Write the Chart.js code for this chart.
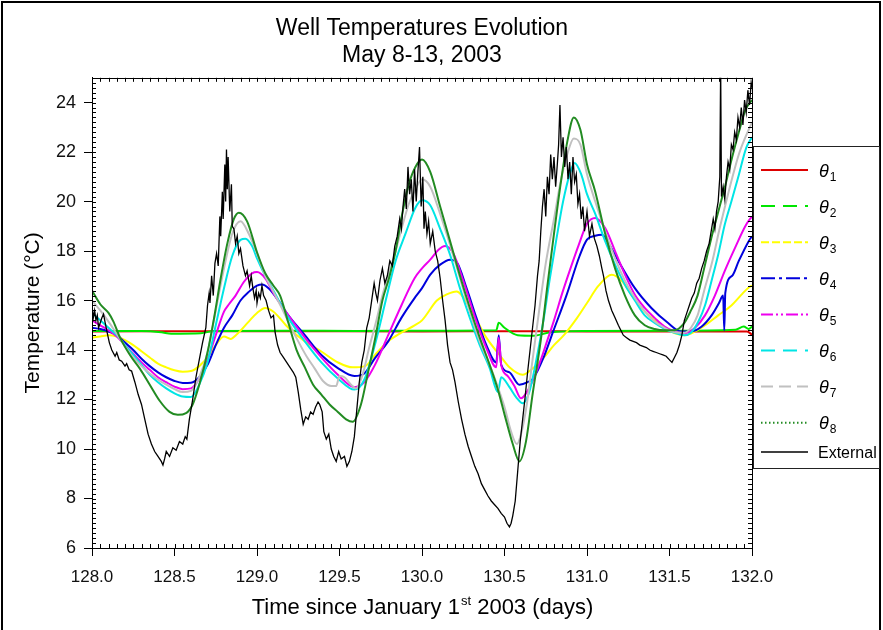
<!DOCTYPE html>
<html>
<head>
<meta charset="utf-8">
<title>Well Temperatures Evolution</title>
<script src="https://cdn.jsdelivr.net/npm/chart.js@4.4.0/dist/chart.umd.min.js"></script>
<style>
  html, body { margin: 0; padding: 0; background: #fff; }
  #wrap { width: 883px; height: 630px; }
</style>
</head>
<body>
<div id="wrap"><canvas id="puits" width="883" height="630"></canvas></div>
<script>
// temperatures du puits, jour de l'annee / degres C
var theta1Days = [128.00, 129.00, 130.00, 130.60, 131.00, 131.97, 132.00];
var theta1 = [14.75, 14.76, 14.75, 14.76, 14.75, 14.75, 14.62];

var theta2Days = [128.00, 128.30, 128.42, 128.48, 128.66, 128.74, 129.20, 129.60, 130.00, 130.45, 130.465, 130.50, 130.58, 130.68, 130.78, 131.00, 131.50, 131.90, 131.95, 131.98, 132.00];
var theta2 = [14.77, 14.77, 14.72, 14.66, 14.68, 14.77, 14.78, 14.77, 14.78, 14.8, 15.1, 14.9, 14.6, 14.58, 14.72, 14.77, 14.78, 14.82, 14.95, 14.85, 14.95];

var theta3Days = [128.00, 128.05, 128.10, 128.15, 128.20, 128.25, 128.30, 128.35, 128.40, 128.45, 128.50, 128.55, 128.60, 128.65, 128.70, 128.75, 128.80, 128.84, 128.88, 128.95,
  129.00, 129.05, 129.10, 129.19, 129.29, 129.39, 129.49, 129.58, 129.655, 129.715, 129.795, 129.875, 129.955, 130.00, 130.09, 130.15, 130.21, 130.29, 130.39, 130.47,
  130.53, 130.61, 130.67, 130.735, 130.80, 130.86, 130.94, 131.00, 131.07, 131.15, 131.21, 131.27, 131.35, 131.43, 131.51, 131.59, 131.655, 131.715, 131.795, 131.875,
  131.935, 131.975, 132.00];
var theta3 = [14.5, 14.55, 14.6, 14.55, 14.4, 14.2, 13.95, 13.7, 13.45, 13.3, 13.18, 13.12, 13.15, 13.35, 13.7, 14.2, 14.55, 14.45, 14.65, 15.15,
  15.5, 15.7, 15.55, 14.9, 14.35, 13.94, 13.5, 13.3, 13.35, 13.8, 14.35, 14.7, 15.0, 15.2, 16.0, 16.25, 16.37, 15.7, 14.5, 13.8,
  13.3, 13.0, 13.25, 13.67, 14.2, 14.6, 15.3, 15.9, 16.6, 17.04, 16.8, 16.23, 15.56, 15.1, 14.75, 14.6, 14.75, 15.0, 15.4, 15.8,
  16.23, 16.5, 16.6];

var theta4Days = [128.00, 128.05, 128.10, 128.15, 128.20, 128.25, 128.30, 128.35, 128.40, 128.45, 128.50, 128.55, 128.60, 128.65, 128.70, 128.75, 128.80, 128.85, 128.90, 128.95,
  129.00, 129.03, 129.07, 129.13, 129.19, 129.29, 129.39, 129.49, 129.59, 129.65, 129.715, 129.795, 129.875, 129.955, 130.00, 130.05, 130.11, 130.17, 130.21, 130.27,
  130.33, 130.39, 130.45, 130.465, 130.48, 130.53, 130.59, 130.64, 130.675, 130.735, 130.795, 130.875, 130.955, 131.00, 131.05, 131.09, 131.14, 131.19, 131.29, 131.39,
  131.49, 131.57, 131.63, 131.695, 131.755, 131.80, 131.825, 131.832, 131.838, 131.88, 131.92, 131.98, 132.00];
var theta4 = [14.9, 14.85, 14.75, 14.6, 14.3, 14.0, 13.65, 13.35, 13.1, 12.9, 12.75, 12.67, 12.68, 12.9, 13.4, 14.2, 14.9, 15.4, 16.0, 16.35,
  16.6, 16.65, 16.5, 16.0, 15.4, 14.6, 13.8, 13.27, 12.95, 13.05, 13.67, 14.35, 15.3, 16.1, 16.5, 17.05, 17.45, 17.65, 17.55, 16.5,
  15.3, 14.2, 13.5, 14.6, 13.4, 13.1, 12.6, 12.7, 12.86, 13.67, 14.75, 16.2, 17.8, 18.46, 18.62, 18.66, 18.2, 17.6, 16.5, 15.7,
  15.1, 14.75, 14.75, 14.95, 15.4, 15.9, 16.2, 14.8, 16.3, 17.0, 17.6, 18.4, 18.6];

var theta5Days = [128.00, 128.05, 128.10, 128.15, 128.20, 128.25, 128.30, 128.35, 128.40, 128.45, 128.50, 128.55, 128.60, 128.65, 128.70, 128.75, 128.80, 128.83, 128.87, 128.92,
  128.97, 129.00, 129.05, 129.10, 129.19, 129.29, 129.39, 129.49, 129.59, 129.65, 129.715, 129.795, 129.875, 129.955, 130.00, 130.05, 130.10, 130.14, 130.19, 130.25,
  130.33, 130.39, 130.45, 130.465, 130.48, 130.52, 130.56, 130.60, 130.64, 130.68, 130.72, 130.76, 130.80, 130.85, 130.90, 130.95, 131.00, 131.05, 131.11, 131.17,
  131.23, 131.29, 131.35, 131.41, 131.47, 131.53, 131.59, 131.655, 131.715, 131.775, 131.835, 131.895, 131.965, 132.00];
var theta5 = [15.2, 15.0, 14.8, 14.55, 14.2, 13.85, 13.5, 13.2, 12.9, 12.7, 12.52, 12.42, 12.45, 12.85, 13.6, 14.6, 15.55, 15.85, 16.2, 16.75,
  17.1, 17.15, 16.9, 16.3, 15.4, 14.5, 13.7, 13.0, 12.5, 12.7, 13.4, 14.6, 15.8, 16.9, 17.3, 17.65, 18.05, 18.2, 17.9, 16.8,
  15.15, 14.08, 13.3, 14.5, 13.4, 12.95, 12.55, 12.05, 12.35, 12.9, 13.6, 14.4, 15.2, 16.3, 17.3, 18.25, 19.1, 19.34, 18.93, 18.0,
  17.05, 16.23, 15.7, 15.3, 14.95, 14.75, 14.68, 14.9, 15.4, 16.2, 17.2, 18.1, 19.07, 19.4];

var theta6Days = [128.00, 128.05, 128.10, 128.15, 128.20, 128.25, 128.30, 128.35, 128.40, 128.45, 128.50, 128.55, 128.60, 128.65, 128.70, 128.75, 128.80, 128.85, 128.90, 128.93,
  128.97, 129.00, 129.05, 129.10, 129.19, 129.29, 129.39, 129.49, 129.59, 129.65, 129.72, 129.78, 129.84, 129.90, 129.96, 130.00, 130.05, 130.11, 130.17, 130.23,
  130.29, 130.35, 130.41, 130.46, 130.48, 130.53, 130.57, 130.61, 130.65, 130.69, 130.735, 130.775, 130.815, 130.855, 130.895, 130.925, 130.965, 131.00, 131.05, 131.11,
  131.17, 131.23, 131.29, 131.35, 131.41, 131.47, 131.53, 131.59, 131.63, 131.675, 131.715, 131.755, 131.795, 131.835, 131.875, 131.915, 131.965, 132.00];
var theta6 = [15.5, 15.2, 14.9, 14.6, 14.2, 13.8, 13.4, 13.0, 12.7, 12.45, 12.25, 12.12, 12.1, 12.6, 13.5, 15.0, 16.5, 17.8, 18.45, 18.5,
  18.2, 17.7, 17.0, 16.4, 15.3, 14.35, 13.5, 12.85, 12.4, 12.8, 14.35, 16.0, 17.6, 18.7, 19.75, 20.05, 19.85, 18.9, 17.85, 16.5,
  15.3, 14.2, 13.27, 12.3, 12.9, 12.5, 12.1, 11.85, 12.3, 13.5, 15.15, 16.9, 18.5, 20.0, 21.1, 21.56, 21.1, 20.3, 19.5, 18.4,
  17.45, 16.64, 16.0, 15.4, 15.1, 14.86, 14.7, 14.6, 14.7, 15.15, 15.8, 16.8, 17.85, 19.07, 20.0, 20.95, 22.17, 22.6];

var theta7Days = [128.00, 128.05, 128.10, 128.15, 128.20, 128.25, 128.30, 128.35, 128.40, 128.45, 128.50, 128.55, 128.60, 128.65, 128.70, 128.75, 128.80, 128.85, 128.90, 128.95,
  129.00, 129.05, 129.10, 129.15, 129.20, 129.25, 129.30, 129.35, 129.40, 129.45, 129.48, 129.50, 129.53, 129.57, 129.60, 129.64, 129.68, 129.72, 129.76, 129.80,
  129.84, 129.88, 129.92, 129.96, 130.00, 130.05, 130.11, 130.17, 130.23, 130.29, 130.35, 130.41, 130.46, 130.50, 130.54, 130.575, 130.60, 130.635, 130.67, 130.71,
  130.75, 130.80, 130.84, 130.88, 130.92, 130.96, 131.00, 131.05, 131.11, 131.17, 131.23, 131.29, 131.35, 131.41, 131.47, 131.53, 131.59, 131.63, 131.67, 131.71,
  131.76, 131.80, 131.84, 131.88, 131.92, 131.96, 132.00];
var theta7 = [16.0, 15.6, 15.15, 14.65, 14.15, 13.7, 13.35, 13.05, 12.8, 12.6, 12.42, 12.3, 12.35, 12.9, 13.9, 15.6, 17.3, 18.7, 19.2, 18.7,
  17.9, 17.0, 16.35, 15.7, 15.0, 14.35, 13.75, 13.25, 12.75, 12.55, 12.55, 12.95, 12.9, 12.6, 12.45, 13.0, 14.1, 15.1, 16.2, 17.1,
  18.0, 19.0, 19.9, 20.5, 20.9, 20.6, 19.5, 18.25, 16.9, 15.55, 14.35, 13.4, 12.5, 11.7, 10.7, 10.2, 10.6, 11.8, 13.6, 15.6,
  17.5, 19.3, 20.8, 21.9, 22.55, 22.3, 21.1, 20.0, 18.8, 17.7, 16.8, 16.1, 15.56, 15.15, 14.9, 14.72, 14.7, 14.9, 15.4, 16.4,
  17.6, 18.8, 19.9, 20.95, 21.9, 22.6, 23.2];

var theta8Days = [128.00, 128.05, 128.10, 128.13, 128.17, 128.23, 128.29, 128.35, 128.41, 128.47, 128.52, 128.57, 128.61, 128.65, 128.70, 128.74, 128.78, 128.82, 128.86, 128.89,
  128.94, 129.00, 129.05, 129.10, 129.14, 129.19, 129.24, 129.29, 129.34, 129.39, 129.44, 129.49, 129.54, 129.58, 129.63, 129.67, 129.72, 129.76, 129.80, 129.84,
  129.88, 129.92, 129.96, 130.00, 130.05, 130.11, 130.17, 130.23, 130.29, 130.35, 130.41, 130.46, 130.50, 130.55, 130.59, 130.63, 130.67, 130.72, 130.76, 130.80,
  130.84, 130.88, 130.92, 130.96, 131.00, 131.05, 131.11, 131.17, 131.23, 131.29, 131.35, 131.41, 131.47, 131.53, 131.59, 131.63, 131.67, 131.71, 131.76, 131.80,
  131.84, 131.88, 131.92, 131.96, 132.00];
var theta8 = [16.4, 15.85, 15.5, 15.15, 14.5, 13.8, 13.25, 12.6, 11.95, 11.5, 11.38, 11.45, 11.8, 12.6, 13.9, 15.3, 16.9, 18.3, 19.3, 19.55,
  19.2, 17.95, 17.1, 16.6, 16.2, 15.1, 14.0, 13.3, 12.6, 12.2, 11.8, 11.5, 11.2, 11.1, 11.8, 13.0, 14.6, 16.0, 16.9, 18.0,
  19.5, 20.7, 21.4, 21.7, 21.2, 19.8, 18.4, 17.0, 15.7, 14.5, 13.4, 12.4, 11.4, 10.2, 9.5, 10.3, 12.2, 14.4, 16.6, 18.7,
  20.7, 22.4, 23.4, 22.9, 21.5, 20.4, 18.7, 17.3, 16.2, 15.4, 15.0, 14.85, 14.8, 14.8, 15.1, 15.6, 16.2, 17.3, 18.7, 19.7,
  20.7, 21.8, 22.8, 23.7, 24.1];

// air exterieur
var extDays = [128.000, 128.008, 128.016, 128.024, 128.032, 128.040, 128.050, 128.060, 128.070, 128.080, 128.092, 128.105, 128.120, 128.140, 128.150, 128.165, 128.180, 128.200, 128.210, 128.225,
  128.240, 128.260, 128.280, 128.300, 128.320, 128.340, 128.360, 128.380, 128.400, 128.420, 128.430, 128.440, 128.450, 128.470, 128.490, 128.510, 128.530, 128.550, 128.565, 128.575,
  128.590, 128.610, 128.630, 128.650, 128.670, 128.690, 128.700, 128.710, 128.715, 128.725, 128.735, 128.745, 128.755, 128.765, 128.775, 128.780, 128.790, 128.795, 128.805, 128.810,
  128.815, 128.820, 128.825, 128.835, 128.845, 128.850, 128.860, 128.870, 128.880, 128.890, 128.900, 128.915, 128.930, 128.940, 128.955, 128.965, 128.975, 128.985, 128.995,
  129.000, 129.010, 129.020, 129.030, 129.040, 129.055, 129.070, 129.085, 129.100, 129.110, 129.125, 129.140, 129.160, 129.180, 129.200, 129.220, 129.235, 129.250, 129.265, 129.280,
  129.295, 129.310, 129.325, 129.340, 129.355, 129.370, 129.380, 129.395, 129.405, 129.420, 129.435, 129.450, 129.465, 129.480, 129.495, 129.510, 129.530, 129.545, 129.560, 129.575,
  129.590, 129.605, 129.620, 129.635, 129.650, 129.665, 129.680, 129.695, 129.710, 129.720, 129.730, 129.745, 129.760, 129.775, 129.790, 129.805, 129.820, 129.835, 129.850, 129.865,
  129.875, 129.885, 129.895, 129.905, 129.915, 129.925, 129.935, 129.945, 129.955, 129.965, 129.975, 129.985, 129.995,
  130.005, 130.012, 130.020, 130.030, 130.040, 130.050, 130.065, 130.080, 130.095, 130.110, 130.125, 130.140, 130.155, 130.170, 130.185, 130.200, 130.220, 130.240, 130.260, 130.280,
  130.300, 130.320, 130.340, 130.360, 130.380, 130.400, 130.420, 130.440, 130.460, 130.480, 130.500, 130.515, 130.530, 130.540, 130.550, 130.565, 130.580, 130.595, 130.610, 130.625,
  130.640, 130.655, 130.670, 130.685, 130.700, 130.710, 130.720, 130.730, 130.740, 130.750, 130.760, 130.770, 130.780, 130.790, 130.800, 130.810, 130.820, 130.828, 130.836, 130.845,
  130.855, 130.865, 130.875, 130.885, 130.895, 130.905, 130.915, 130.925, 130.935, 130.945, 130.955, 130.965, 130.975, 130.985,
  131.000, 131.015, 131.030, 131.045, 131.060, 131.075, 131.090, 131.100, 131.115, 131.130, 131.150, 131.170, 131.190, 131.205, 131.220, 131.240, 131.260, 131.280, 131.300, 131.320,
  131.340, 131.360, 131.380, 131.400, 131.420, 131.440, 131.460, 131.480, 131.500, 131.515, 131.530, 131.545, 131.560, 131.575, 131.590, 131.605, 131.620, 131.635, 131.650, 131.665,
  131.680, 131.695, 131.710, 131.725, 131.740, 131.755, 131.765, 131.775, 131.785, 131.795, 131.805, 131.810, 131.815, 131.825, 131.835, 131.845, 131.855, 131.865, 131.875, 131.885,
  131.895, 131.905, 131.915, 131.925, 131.935, 131.945, 131.955, 131.965, 131.975, 131.985, 131.995, 132.000];
var extTemp = [15.8, 15.3, 15.6, 15.2, 15.4, 14.9, 15.1, 15.3, 15.45, 15.1, 14.7, 14.3, 14.0, 13.75, 13.9, 13.6, 13.55, 13.35, 13.45, 13.2,
  13.15, 12.7, 12.2, 11.8, 11.2, 10.6, 10.2, 9.9, 9.7, 9.5, 9.35, 9.6, 9.9, 9.7, 10.05, 9.95, 10.3, 10.2, 10.5, 10.4,
  11.2, 12.0, 12.9, 13.6, 14.3, 14.9, 15.8, 16.3, 15.9, 17.0, 16.2, 17.5, 17.9, 17.4, 19.4, 18.6, 20.4, 19.3, 21.5, 20.0,
  22.1, 20.5, 21.8, 19.6, 20.7, 19.0, 18.9, 18.3, 18.6, 17.9, 18.1, 17.4, 17.0, 17.2, 16.6, 17.0, 16.5, 16.1, 16.4,
  15.9, 16.3, 16.1, 16.6, 16.2, 16.0, 15.6, 15.3, 15.4, 14.7, 14.2, 13.9, 13.7, 13.5, 13.3, 13.1, 12.9, 12.3, 11.6, 11.0,
  11.3, 11.2, 11.5, 11.4, 11.7, 11.9, 11.8, 11.5, 10.7, 10.4, 10.6, 10.0, 9.7, 9.5, 9.9, 9.6, 9.7, 9.3, 9.5, 9.9,
  10.5, 11.6, 12.7, 13.5, 14.0, 14.9, 15.3, 16.0, 16.7, 16.3, 16.0, 16.8, 17.3, 16.7, 17.0, 17.6, 17.4, 18.2, 18.6, 19.3,
  18.9, 19.8, 20.5, 19.7, 21.4, 20.3, 20.9, 19.6, 21.3, 20.0, 21.2, 22.2, 19.8,
  21.0, 18.9, 19.6, 18.7, 19.2, 18.3, 18.8, 18.0, 17.6, 16.9, 16.0, 15.2, 14.2, 13.5, 13.2, 12.7, 11.9, 11.2, 10.6, 10.1,
  9.7, 9.3, 9.0, 8.6, 8.35, 8.1, 7.9, 7.75, 7.6, 7.4, 7.25, 7.0, 6.85, 7.0, 7.3, 7.9, 9.1, 10.3, 11.2, 12.1,
  13.1, 14.0, 14.9, 15.8, 17.0, 17.6, 18.8, 19.8, 20.5, 19.4, 21.0, 20.3, 21.9, 20.9, 21.8, 20.6, 21.5, 22.3, 23.9, 21.8,
  22.6, 21.4, 22.2, 20.9, 21.6, 20.3, 21.8, 20.8, 21.1, 19.9, 20.3, 19.3, 19.8, 18.8,
  19.6, 18.6, 19.1, 18.5, 18.2, 17.8, 17.3, 17.0, 16.4, 16.0, 15.6, 15.3, 15.0, 14.8, 14.6, 14.5, 14.4, 14.35, 14.3, 14.2,
  14.15, 14.1, 14.0, 13.95, 13.9, 13.85, 13.8, 13.75, 13.6, 13.5, 13.7, 13.9, 14.2, 14.6, 15.2, 15.5, 15.8, 16.1, 16.3, 16.7,
  16.9, 17.3, 17.6, 18.0, 18.3, 18.9, 19.3, 18.9, 19.6, 20.0, 21.0, 25.5, 20.2, 20.6, 20.1, 21.0, 21.6, 21.3, 22.3, 22.1,
  22.8, 22.5, 23.4, 23.0, 23.8, 23.1, 24.1, 23.6, 24.5, 23.9, 24.8, 24.6];

// graduations
var xTicks = [128.0, 128.5, 129.0, 129.5, 130.0, 130.5, 131.0, 131.5, 132.0];
var yTicks = [6, 8, 10, 12, 14, 16, 18, 20, 22, 24];

var FONT = "'Liberation Sans', Arial, sans-serif";

function pairs(xs, ys) {
  return xs.map(function (x, i) { return { x: x, y: ys[i] }; });
}

// une entree par courbe : style du trace et du petit echantillon de legende
var series = [
  { name: 'θ', sub: '1', days: theta1Days, temp: theta1, color: '#dd0000', dash: [], width: 2 },
  { name: 'θ', sub: '2', days: theta2Days, temp: theta2, color: '#00e600', dash: [14, 8], width: 2 },
  { name: 'θ', sub: '3', days: theta3Days, temp: theta3, color: '#ffff00', dash: [8, 3], width: 2 },
  { name: 'θ', sub: '4', days: theta4Days, temp: theta4, color: '#0000dd', dash: [14, 4, 3, 4], width: 2 },
  { name: 'θ', sub: '5', days: theta5Days, temp: theta5, color: '#ee00ee', dash: [12, 3, 2, 3, 2, 3], width: 2 },
  { name: 'θ', sub: '6', days: theta6Days, temp: theta6, color: '#00e5e5', dash: [14, 8], width: 2 },
  { name: 'θ', sub: '7', days: theta7Days, temp: theta7, color: '#c0c0c0', dash: [12, 6], width: 2 },
  { name: 'θ', sub: '8', days: theta8Days, temp: theta8, color: '#228b22', dash: [1.5, 2.5], width: 2 },
  { name: 'External', sub: '', days: extDays, temp: extTemp, color: '#000000', dash: [], width: 1.3, raw: true }
];

// cadre de l'image
var cadre = {
  id: 'cadre',
  beforeDraw: function (chart) {
    var c = chart.ctx;
    c.save();
    c.fillStyle = '#fff';
    c.fillRect(0, 0, chart.width, chart.height);
    c.strokeStyle = '#000';
    c.lineWidth = 2;
    c.beginPath();
    c.moveTo(2, chart.height);
    c.lineTo(2, 2);
    c.lineTo(chart.width - 3, 2);
    c.lineTo(chart.width - 3, chart.height);
    c.stroke();
    c.restore();
  }
};

// boite autour du trace + petites graduations vers l'interieur
var boite = {
  id: 'boite',
  afterDatasetsDraw: function (chart) {
    var a = chart.chartArea, c = chart.ctx;
    var sx = chart.scales.x, sy = chart.scales.y;
    c.save();
    c.strokeStyle = '#000';
    c.lineWidth = 1;
    c.strokeRect(Math.round(a.left) + 0.5, Math.round(a.top) + 0.5, Math.round(a.right - a.left), Math.round(a.bottom - a.top));
    c.beginPath();
    var v, p;
    for (v = sx.min; v <= sx.max + 1e-6; v += 0.05) {
      p = Math.round(sx.getPixelForValue(v)) + 0.5;
      c.moveTo(p, a.bottom); c.lineTo(p, a.bottom - 4);
      c.moveTo(p, a.top); c.lineTo(p, a.top + 4);
    }
    for (v = sy.min; v <= sy.max + 1e-6; v += 0.2) {
      p = Math.round(sy.getPixelForValue(v)) + 0.5;
      c.moveTo(a.left, p); c.lineTo(a.left + 4, p);
      c.moveTo(a.right, p); c.lineTo(a.right - 4, p);
    }
    c.stroke();
    c.restore();
  }
};

// titre de l'axe x avec l'exposant "st"
var titreX = {
  id: 'titreX',
  afterDraw: function (chart) {
    var c = chart.ctx, a = chart.chartArea;
    var partA = 'Time since January 1', sup = 'st', partB = ' 2003 (days)';
    c.save();
    c.fillStyle = '#000';
    c.textBaseline = 'alphabetic';
    c.font = '22px ' + FONT;
    var wA = c.measureText(partA).width, wB = c.measureText(partB).width;
    c.font = '13px ' + FONT;
    var wS = c.measureText(sup).width;
    var x0 = (a.left + a.right) / 2 - (wA + wS + wB) / 2;
    var base = 614;
    c.font = '22px ' + FONT;
    c.fillText(partA, x0, base);
    c.font = '13px ' + FONT;
    c.fillText(sup, x0 + wA + 1, base - 9);
    c.font = '22px ' + FONT;
    c.fillText(partB, x0 + wA + wS + 1, base);
    c.restore();
  }
};

// legende dessinee a droite du trace
var legende = {
  id: 'legende',
  afterDraw: function (chart) {
    var c = chart.ctx;
    var left = chart.chartArea.right + 1, top = 146, right = chart.width - 3, bottom = 468;
    c.save();
    c.fillStyle = '#fff';
    c.fillRect(left, top, right - left, bottom - top);
    c.strokeStyle = '#222';
    c.lineWidth = 1;
    c.strokeRect(left + 0.5, top + 0.5, right - left - 1, bottom - top);
    series.forEach(function (s, i) {
      var yRow = s.sub ? 170 + i * 36.1 : 452;
      c.beginPath();
      c.setLineDash(s.dash);
      c.lineWidth = s.sub ? 2 : 1.3;
      c.strokeStyle = s.color;
      c.moveTo(761, yRow);
      c.lineTo(808, yRow);
      c.stroke();
      c.setLineDash([]);
      c.fillStyle = '#000';
      c.textBaseline = 'alphabetic';
      if (s.sub) {
        c.font = 'italic 18px ' + FONT;
        c.fillText(s.name, 819, yRow + 6.5);
        var w = c.measureText(s.name).width;
        c.font = '12px ' + FONT;
        c.fillText(s.sub, 819 + w + 1, yRow + 10.5);
      } else {
        c.font = '16px ' + FONT;
        c.fillText(s.name, 818, yRow + 6);
      }
    });
    c.restore();
  }
};

var ctx = document.getElementById('puits');
var graph = new Chart(ctx, {
  type: 'line',
  data: {
    datasets: series.map(function (s, i) {
      return {
        label: s.name + s.sub,
        data: pairs(s.days, s.temp),
        borderColor: s.color,
        backgroundColor: s.color,
        borderWidth: s.width,
        pointRadius: 0,
        fill: false,
        tension: 0,
        cubicInterpolationMode: s.raw ? 'default' : 'monotone',
        order: series.length - i
      };
    })
  },
  options: {
    responsive: false,
    animation: false,
    events: [],
    layout: { padding: { left: 0, right: 131, top: 0, bottom: 0 } },
    plugins: {
      legend: { display: false },
      tooltip: { enabled: false },
      title: {
        display: true,
        fullSize: false,
        text: ['Well Temperatures Evolution', 'May 8-13, 2003'],
        color: '#000',
        font: { family: FONT, size: 23, weight: 'normal', lineHeight: 1.17 },
        padding: { top: 15, bottom: 9 }
      }
    },
    scales: {
      x: {
        type: 'linear',
        min: 128,
        max: 132,
        afterFit: function (s) { s.height = 82; },
        afterBuildTicks: function (s) { s.ticks = xTicks.map(function (v) { return { value: v }; }); },
        ticks: {
          callback: function (v) { return Number(v).toFixed(1); },
          color: '#111',
          font: { family: FONT, size: 17 },
          padding: 11,
          maxRotation: 0,
          autoSkip: false
        },
        grid: { drawOnChartArea: false, drawTicks: true, tickLength: 8, color: '#000', tickWidth: 1 },
        border: { display: true, color: '#000', width: 1 }
      },
      y: {
        type: 'linear',
        min: 6,
        max: 25,
        afterFit: function (s) { s.width = 92; },
        afterBuildTicks: function (s) { s.ticks = yTicks.map(function (v) { return { value: v }; }); },
        ticks: {
          callback: function (v) { return String(v); },
          color: '#111',
          font: { family: FONT, size: 18 },
          padding: 8
        },
        grid: { drawOnChartArea: false, drawTicks: true, tickLength: 8, color: '#000', tickWidth: 1 },
        border: { display: true, color: '#000', width: 1 },
        title: {
          display: true,
          text: 'Temperature (°C)',
          color: '#000',
          font: { family: FONT, size: 21 },
          padding: { top: 21, bottom: 0 }
        }
      }
    }
  },
  plugins: [cadre, boite, titreX, legende]
});
</script>
</body>
</html>
